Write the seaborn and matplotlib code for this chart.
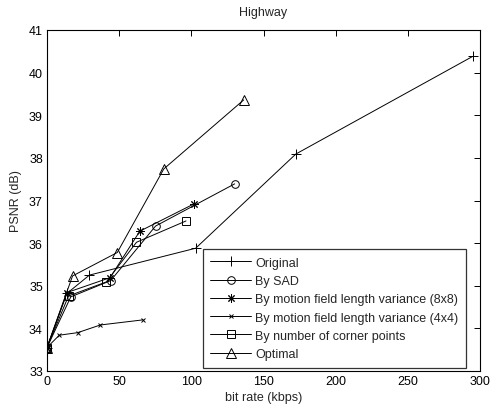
import matplotlib
matplotlib.use("Agg")
import matplotlib.pyplot as plt
import seaborn as sns
import pandas as pd

sns.set_theme(style="white")
plt.rcParams['font.family'] = ['Liberation Sans', 'DejaVu Sans']

original_x = [0, 13.8, 29.4, 103, 172.4, 294.9]
original_y = [33.55, 34.82, 35.25, 35.88, 38.09, 40.38]
sad_x = [0, 16.5, 44.1, 75.2, 130]
sad_y = [33.55, 34.74, 35.12, 36.4, 37.39]
mf8_x = [0, 13.8, 43.7, 64.3, 101.8]
mf8_y = [33.55, 34.84, 35.19, 36.28, 36.92]
mf4_x = [0, 8.5, 21.3, 37, 66.6]
mf4_y = [33.55, 33.84, 33.9, 34.08, 34.2]
corner_x = [0, 14.9, 41.1, 62, 96.3]
corner_y = [33.55, 34.76, 35.09, 36.02, 36.52]
optimal_x = [0, 17.7, 48.7, 80.9, 136.3]
optimal_y = [33.55, 35.23, 35.78, 37.74, 39.36]

series = [
    ("Original", original_x, original_y, "+", 6.5),
    ("By SAD", sad_x, sad_y, "o", 5.5),
    ("By motion field length variance (8x8)", mf8_x, mf8_y, (8, 2, 0), 6),
    ("By motion field length variance (4x4)", mf4_x, mf4_y, "x", 3.5),
    ("By number of corner points", corner_x, corner_y, "s", 5.5),
    ("Optimal", optimal_x, optimal_y, "^", 6.5),
]

fig = plt.figure(figsize=(4.92, 4.10), dpi=100)
ax = fig.add_axes([47/492, 1 - 372/410, (480-47)/492, (372-31)/410])

for name, xs, ys, mk, ms in series:
    df = pd.DataFrame({"x": xs, "y": ys})
    sns.lineplot(data=df, x="x", y="y", ax=ax, color="black", linewidth=0.7,
                 marker=mk, markersize=ms, markerfacecolor="none",
                 markeredgecolor="black", markeredgewidth=0.7,
                 sort=False, label=name, estimator=None)

ax.set_xlim(0, 300)
ax.set_ylim(33, 41)
ax.set_xticks([0, 50, 100, 150, 200, 250, 300])
ax.set_yticks(range(33, 42))
ax.tick_params(direction="in", top=True, right=True, length=4, width=0.7,
               labelsize=9, pad=3, colors="black")
for s in ax.spines.values():
    s.set_color("black")
    s.set_linewidth(0.8)
ax.set_xlabel("bit rate (kbps)", fontsize=9, labelpad=3)
ax.set_ylabel("PSNR (dB)", fontsize=9, labelpad=5)
ax.set_title("Highway", fontsize=9, pad=11)

leg = ax.legend(loc="lower right", bbox_to_anchor=(0.967, 0.01), fontsize=9,
                frameon=True, fancybox=False, edgecolor="black",
                borderpad=0.6, labelspacing=0.5, handlelength=3.3,
                handletextpad=0.3, borderaxespad=0)
leg.get_frame().set_linewidth(0.9)

fig.savefig("out.png", dpi=100, facecolor="white")
